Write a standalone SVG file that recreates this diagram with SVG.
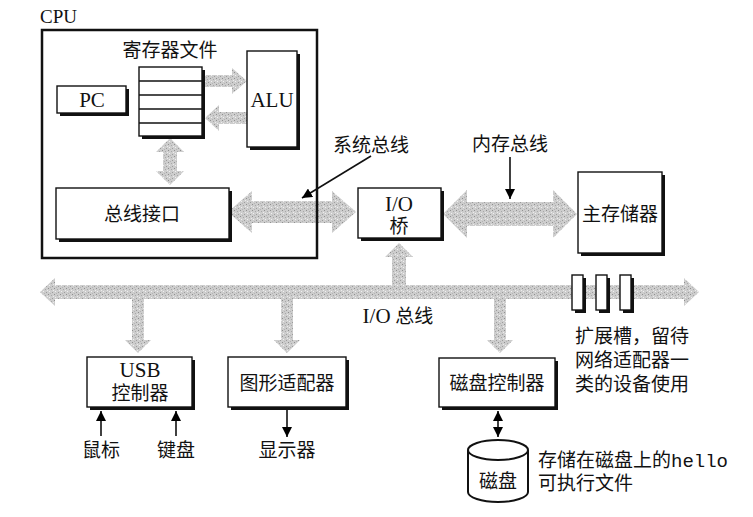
<svg xmlns="http://www.w3.org/2000/svg" width="753" height="517" viewBox="0 0 753 517">
<defs>
<pattern id="stip" width="6" height="6" patternUnits="userSpaceOnUse">
<rect width="6" height="6" fill="#cdcdcd"/>
<rect x="0" y="0" width="1" height="1" fill="#909090"/>
<rect x="3" y="1" width="1" height="1" fill="#a8a8a8"/>
<rect x="1" y="3" width="1" height="1" fill="#f0f0f0"/>
<rect x="4" y="4" width="1" height="1" fill="#9c9c9c"/>
<rect x="2" y="5" width="1" height="1" fill="#b4b4b4"/>
<rect x="5" y="2" width="1" height="1" fill="#ececec"/>
</pattern>
<marker id="ah" viewBox="0 0 10 10" refX="10" refY="5" markerWidth="10" markerHeight="10" markerUnits="userSpaceOnUse" orient="auto-start-reverse">
<path d="M0 0 L10 5 L0 10 Z" fill="#000"/>
</marker>
</defs>
<style>
.t{font-family:"Liberation Serif","Noto Sans CJK SC",serif;font-size:19px;fill:#111;text-anchor:middle}
.ts{font-family:"Liberation Serif","Noto Sans CJK SC",serif;font-size:19px;fill:#111}
.lat{font-size:21px}
.mono{font-family:"Liberation Mono",monospace}
.box{fill:#fff;stroke:#111;stroke-width:1.4}
.sh{fill:#111}
.bus{fill:url(#stip);stroke:none}
.ln{stroke:#111;stroke-width:1.6;fill:none}
</style>
<rect width="753" height="517" fill="#fff"/>

<g id="connectors">
<path class="bus" d="M40 292 L55 278 L55 285 L684 285 L684 278 L699 292 L684 306 L684 299 L55 299 L55 306 Z"/>
<path class="bus" d="M132 298 L144 298 L144 340 L151 340 L138 353 L125 340 L132 340 Z"/>
<path class="bus" d="M281 298 L293 298 L293 340 L300 340 L287 353 L274 340 L281 340 Z"/>
<path class="bus" d="M494 298 L506 298 L506 340 L513 340 L500 353 L487 340 L494 340 Z"/>
<path class="bus" d="M392 286 L392 257 L385 257 L399 243 L413 257 L406 257 L406 286 Z"/>
<path class="bus" d="M228 212 L252 191 L252 201 L332 201 L332 191 L356 212 L332 233 L332 223 L252 223 L252 233 Z"/>
<path class="bus" d="M443 214 L467 190 L467 202 L553 202 L553 190 L577 214 L553 238 L553 226 L467 226 L467 238 Z"/>
<path class="bus" d="M205 75 L232 75 L232 68 L247 81 L232 94 L232 87 L205 87 Z"/>
<path class="bus" d="M247 112 L219 112 L219 105 L205 118 L219 131 L219 124 L247 124 Z"/>
<path class="bus" d="M170 138 L184 152 L177 152 L177 171 L184 171 L170 185 L156 171 L163 171 L163 152 L156 152 Z"/>
<line class="ln" x1="371" y1="156" x2="302" y2="198" marker-end="url(#ah)"/>
<line class="ln" x1="510" y1="157" x2="510" y2="199" marker-end="url(#ah)"/>
<line class="ln" x1="101" y1="436" x2="101" y2="411" marker-end="url(#ah)"/>
<line class="ln" x1="176" y1="436" x2="176" y2="411" marker-end="url(#ah)"/>
<line class="ln" x1="287" y1="410" x2="287" y2="437" marker-end="url(#ah)"/>
<line class="ln" x1="498" y1="411" x2="498" y2="437" marker-start="url(#ah)" marker-end="url(#ah)"/>
</g>

<g id="cpu">
<rect x="42" y="30" width="275" height="228" fill="none" stroke="#111" stroke-width="2.5"/>
<text class="ts" x="40" y="23" font-size="20">CPU</text>
</g>

<g id="regfile">
<text class="t" x="170" y="57">寄存器文件</text>
<rect class="sh" x="142" y="70" width="63" height="69"/>
<rect class="box" x="139" y="67" width="63" height="69"/>
<line class="ln" stroke-width="1.2" x1="139" y1="81" x2="202" y2="81"/>
<line class="ln" stroke-width="1.2" x1="139" y1="95" x2="202" y2="95"/>
<line class="ln" stroke-width="1.2" x1="139" y1="109" x2="202" y2="109"/>
<line class="ln" stroke-width="1.2" x1="139" y1="123" x2="202" y2="123"/>
</g>

<g id="pc">
<rect class="sh" x="60" y="89" width="69" height="27"/>
<rect class="box" x="57" y="86" width="69" height="27"/>
<text class="t lat" x="92" y="107">PC</text>
</g>

<g id="alu">
<rect class="sh" x="250" y="54" width="50" height="96"/>
<rect class="box" x="247" y="51" width="50" height="96"/>
<text class="t lat" x="272" y="107">ALU</text>
</g>

<g id="businterface">
<rect class="sh" x="59" y="191" width="173" height="51"/>
<rect class="box" x="56" y="188" width="173" height="51"/>
<text class="t" x="142" y="221">总线接口</text>
</g>

<g id="sysbus-label">
<text class="ts" x="333" y="152">系统总线</text>
</g>

<g id="iobridge">
<rect class="sh" x="361" y="191" width="83" height="50"/>
<rect class="box" x="358" y="188" width="83" height="50"/>
<text class="t lat" x="399" y="211">I/O</text>
<text class="t" x="399" y="233">桥</text>
</g>

<g id="membus-label">
<text class="t" x="510" y="151">内存总线</text>
</g>

<g id="mainmem">
<rect class="sh" x="581" y="175" width="84" height="81"/>
<rect class="box" x="578" y="172" width="84" height="81"/>
<text class="t" x="620" y="221">主存储器</text>
</g>

<g id="iobus-label">
<text class="t" x="398" y="323"><tspan class="lat">I/O</tspan> 总线</text>
</g>

<g id="slots">
<rect class="sh" x="575" y="278" width="11" height="35"/>
<rect class="box" x="572" y="275" width="11" height="35"/>
<rect class="sh" x="599" y="278" width="11" height="35"/>
<rect class="box" x="596" y="275" width="11" height="35"/>
<rect class="sh" x="623" y="278" width="11" height="35"/>
<rect class="box" x="620" y="275" width="11" height="35"/>
<text class="ts" x="575" y="343">扩展槽，留待</text>
<text class="ts" x="575" y="367">网络适配器一</text>
<text class="ts" x="575" y="391">类的设备使用</text>
</g>

<g id="usb">
<rect class="sh" x="90" y="360" width="105" height="50"/>
<rect class="box" x="87" y="357" width="105" height="50"/>
<text class="t lat" x="140" y="377">USB</text>
<text class="t" x="140" y="400">控制器</text>
</g>

<g id="graphics">
<rect class="sh" x="231" y="360" width="118" height="50"/>
<rect class="box" x="228" y="357" width="118" height="50"/>
<text class="t" x="287" y="390">图形适配器</text>
</g>

<g id="diskctrl">
<rect class="sh" x="442" y="361" width="116" height="49"/>
<rect class="box" x="439" y="358" width="116" height="49"/>
<text class="t" x="497" y="390">磁盘控制器</text>
</g>

<g id="mouse"><text class="t" x="101" y="457">鼠标</text></g>
<g id="keyboard"><text class="t" x="176" y="457">键盘</text></g>
<g id="display"><text class="t" x="287" y="457">显示器</text></g>

<g id="disk">
<path d="M468 450 L468 492 A30 10 0 0 0 528 492 L528 450" fill="#fff" stroke="#111" stroke-width="2"/>
<ellipse cx="498" cy="450" rx="30" ry="10" fill="#fff" stroke="#111" stroke-width="2"/>
<text class="t" x="498" y="488">磁盘</text>
<text class="ts" x="538" y="467">存储在磁盘上的<tspan class="mono">hello</tspan></text>
<text class="ts" x="538" y="490">可执行文件</text>
</g>
</svg>
